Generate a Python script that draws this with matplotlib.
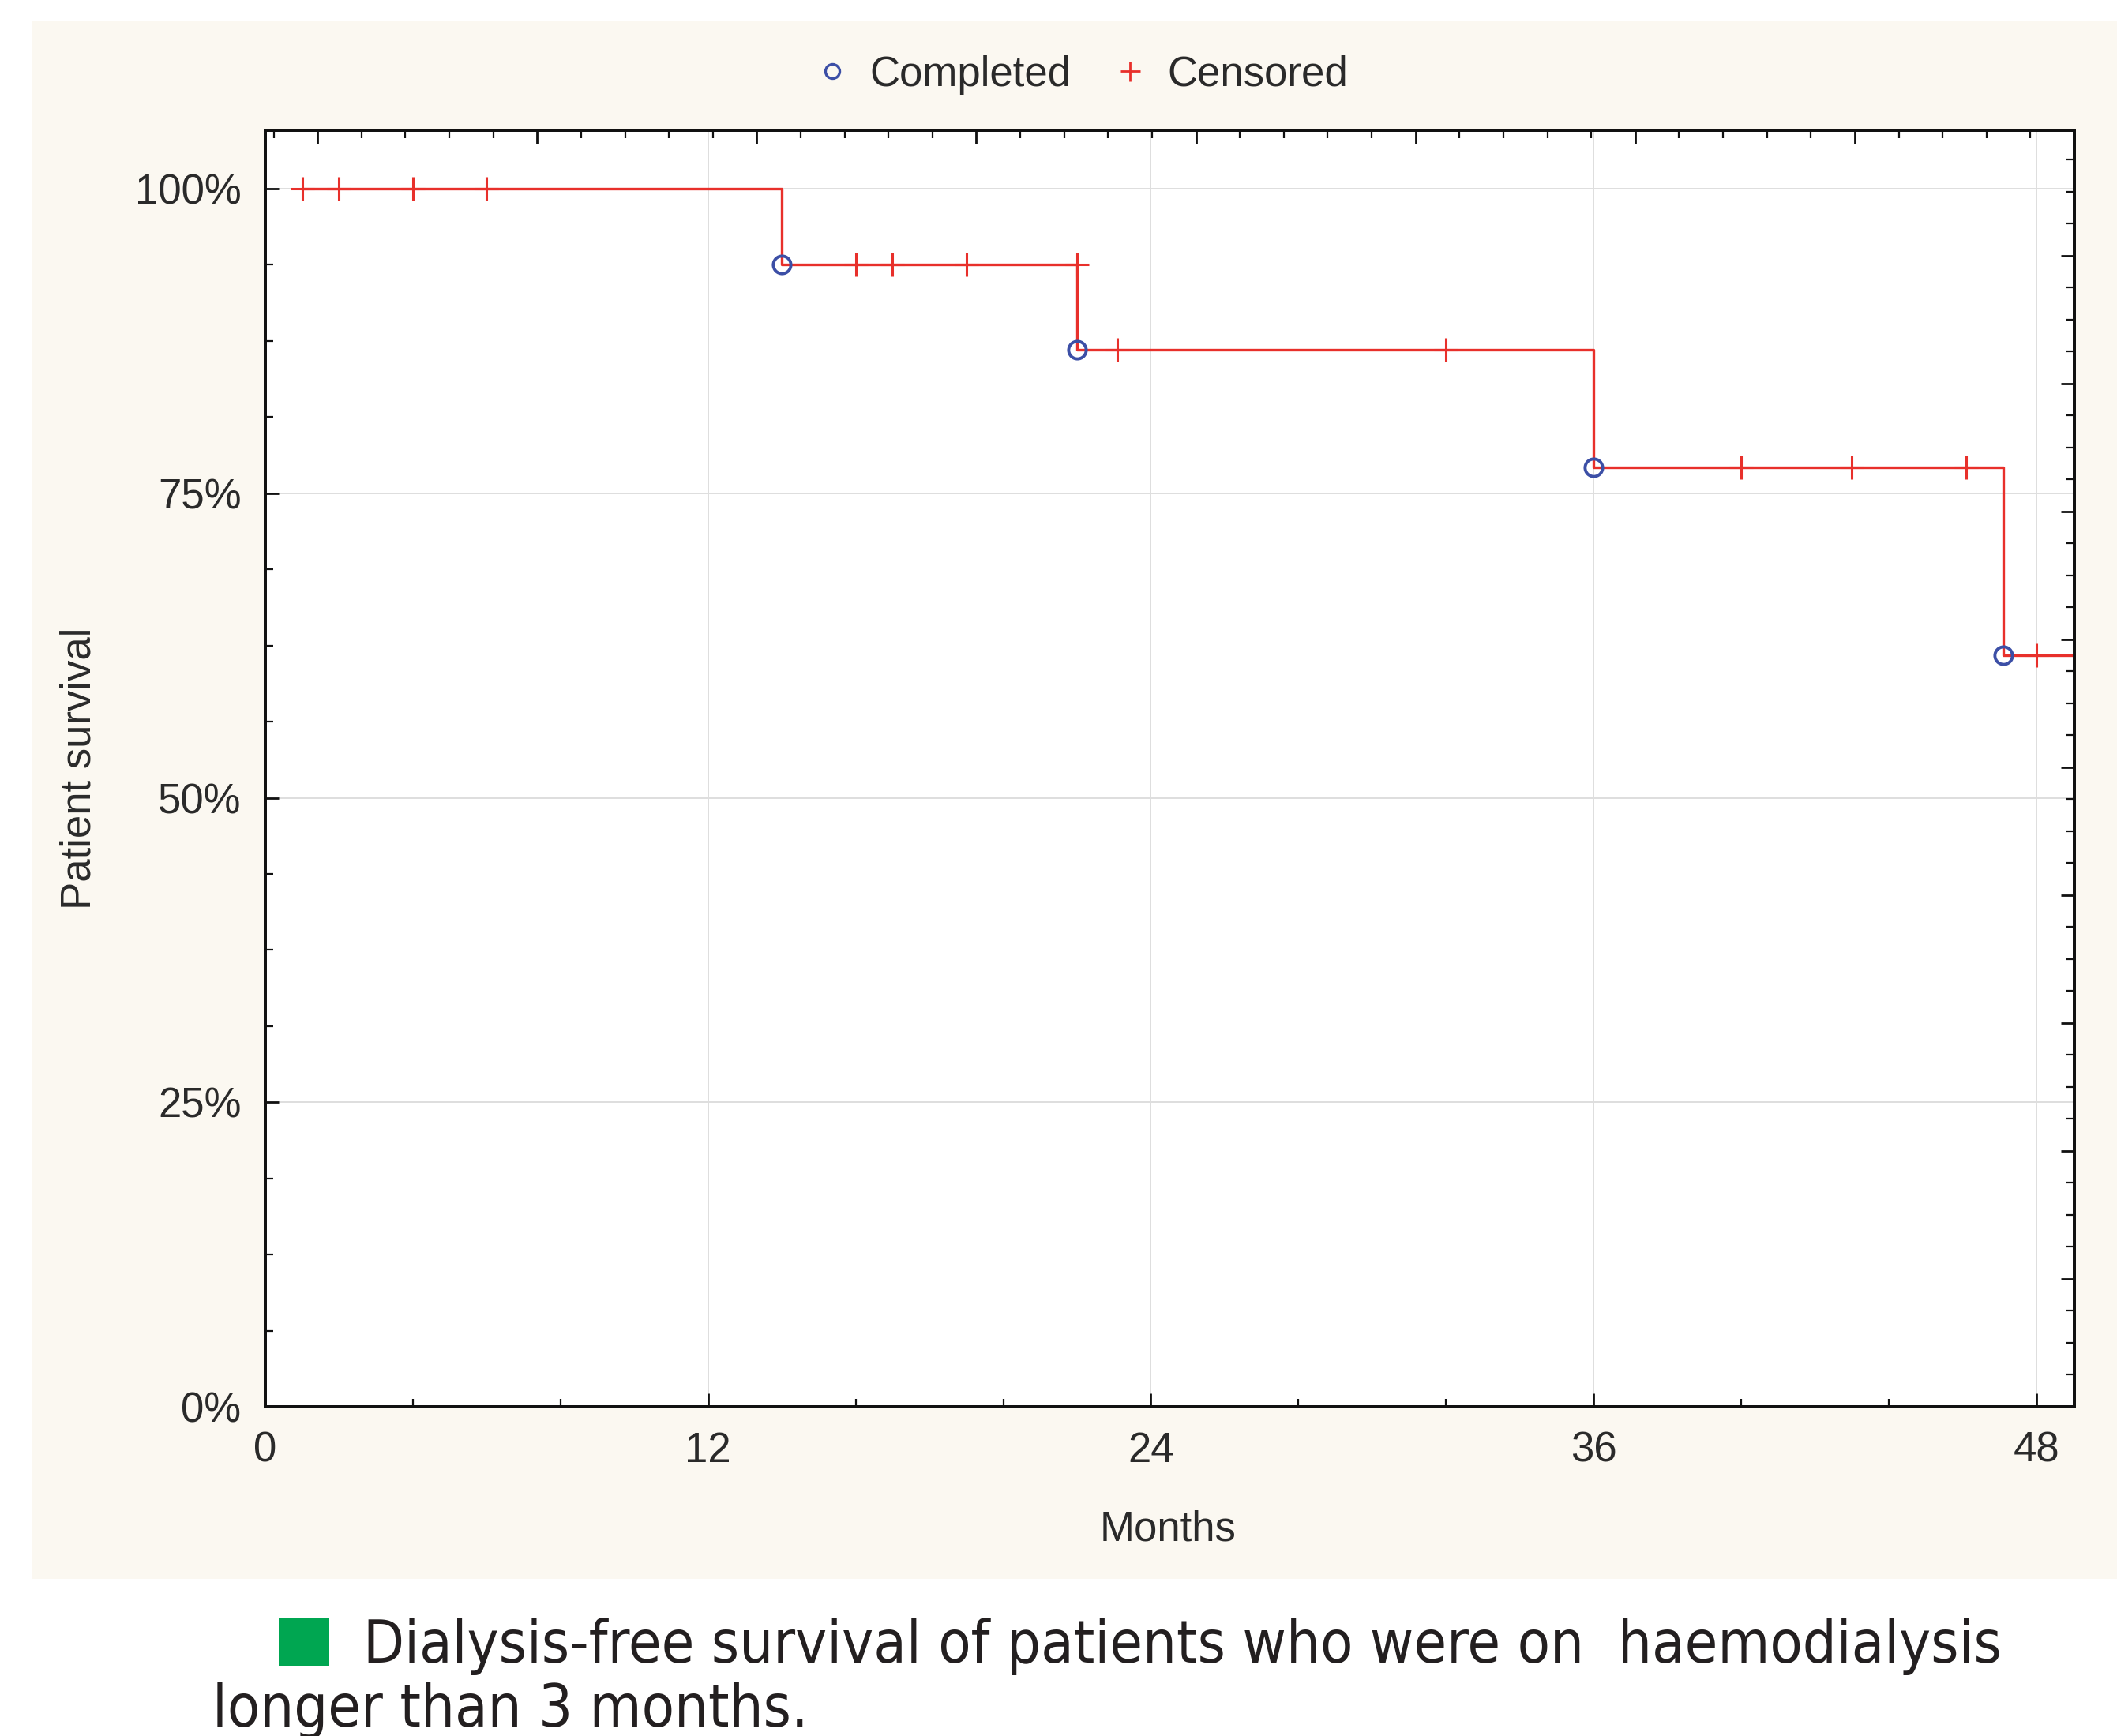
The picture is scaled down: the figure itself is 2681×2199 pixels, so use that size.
import matplotlib
matplotlib.use("Agg")
import matplotlib.pyplot as plt
from matplotlib.ticker import MultipleLocator, PercentFormatter, NullFormatter
from matplotlib.patches import Rectangle
from matplotlib.lines import Line2D

# ---------------- data ----------------
event_times = [14.0, 22.0, 36.0, 47.1]          # completed (events)
levels = [100.0, 93.75, 86.8, 77.1, 61.7]       # survival (%) before first event and after each event
censor_times = [1.0, 2.0, 4.0, 6.0, 16.0, 17.0, 19.0, 22.0, 23.1, 32.0, 40.0, 43.0, 46.1, 48.0]
start_time = 1.0
end_time = 49.0
x_ticks = [0, 12, 24, 36, 48]
y_ticks = [0, 25, 50, 75, 100]

# censored at the same time as an event sits on the level before the drop
censor_levels = []
for t in censor_times:
    lv = levels[0]
    for et, l in zip(event_times, levels[1:]):
        if t > et:
            lv = l
    censor_levels.append(lv)

W, H = 2681, 2199
fig = plt.figure(figsize=(W / 100, H / 100), dpi=100)
fig.patch.set_facecolor("white")

# beige panel
fig.patches.append(Rectangle((41 / W, 1 - 2000 / H), 1 - 41 / W, (2000 - 26) / H,
                             transform=fig.transFigure, facecolor="#FBF8F1",
                             edgecolor="none", zorder=-5))

ax = fig.add_axes([336 / W, 1 - 1782 / H, (2627 - 336) / W, (1782 - 165) / H])
ax.set_facecolor("white")
ax.set_zorder(2)

red = "#E8302B"
blue = "#3C4FA6"
FONT = "Liberation Sans"
fs = 38
tc = "#2A2A2A"

xs = [start_time] + event_times + [end_time]
ys = levels + [levels[-1]]
ax.step(xs, ys, where="post", color=red, lw=2.4, zorder=3)
ax.plot(censor_times, censor_levels, linestyle="none", marker="+", color=red,
        markersize=22, mew=2.2, zorder=4)
ax.plot(event_times, levels[1:], linestyle="none", marker="o", mfc="none",
        mec=blue, markersize=16, mew=2.8, zorder=5)

ax.set_xlim(0, 49.03)
ax.set_ylim(0, 104.8)
ax.set_xticks(x_ticks)
ax.set_yticks(y_ticks)
ax.xaxis.set_minor_locator(MultipleLocator(4))
ax.yaxis.set_minor_locator(MultipleLocator(6.25))
ax.yaxis.set_major_formatter(PercentFormatter(xmax=100, decimals=0))
ax.grid(True, which="major", color="#DEDEDE", lw=1.4, zorder=0)

for sp in ax.spines.values():
    sp.set_linewidth(2.6)
    sp.set_color("#111111")

ax.tick_params(which="major", direction="in", length=12, width=2, color="#111111",
               labelsize=fs, labelcolor=tc, pad=22)
ax.tick_params(which="minor", direction="in", length=7, width=1.6, color="#111111")
for lab in ax.get_xticklabels() + ax.get_yticklabels():
    lab.set_fontfamily(FONT)

ax.set_xlabel("Months", fontsize=fs, family=FONT, color=tc)
ax.xaxis.set_label_coords(0.499, -0.081)
ax.set_ylabel("Patient survival", fontsize=fs, family=FONT, color=tc, va="center")
ax.yaxis.set_label_coords(-0.103, 0.5)

# secondary tick scales on top and right (unlabelled)
axt = ax.twiny()
axt.set_xlim(-0.238, 8.0)
axt.xaxis.set_major_locator(MultipleLocator(1))
axt.xaxis.set_minor_locator(MultipleLocator(0.2))
axt.xaxis.set_major_formatter(NullFormatter())
axt.tick_params(which="major", direction="in", length=12, width=2, color="#111111")
axt.tick_params(which="minor", direction="in", length=7, width=1.6, color="#111111")
for sp in axt.spines.values():
    sp.set_linewidth(2.6)
    sp.set_color("#111111")

axr = ax.twinx()
axr.set_ylim(0, 9.98)
axr.yaxis.set_major_locator(MultipleLocator(1))
axr.yaxis.set_minor_locator(MultipleLocator(0.25))
axr.yaxis.set_major_formatter(NullFormatter())
axr.tick_params(which="major", direction="in", length=12, width=2, color="#111111")
axr.tick_params(which="minor", direction="in", length=7, width=1.6, color="#111111")
for sp in axr.spines.values():
    sp.set_linewidth(2.6)
    sp.set_color("#111111")

# legend
h1 = Line2D([], [], linestyle="none", marker="o", mfc="none", mec=blue, markersize=13, mew=2.4)
h2 = Line2D([], [], linestyle="none", marker="+", color=red, markersize=18, mew=2.0)
fig.legend([h1, h2], ["Completed", "Censored"], loc="center", bbox_to_anchor=(0.511, 0.957),
           ncol=2, frameon=False, handlelength=0.8, handletextpad=0.5, columnspacing=1.0,
           prop={"family": FONT, "size": fs}, labelcolor=tc)

# caption
fig.patches.append(Rectangle((353 / W, 1 - 2110 / H), 64 / W, 60 / H,
                             transform=fig.transFigure, facecolor="#00A651",
                             edgecolor="none"))
cap_kw = dict(fontsize=54.3, family="DejaVu Sans", fontstretch="condensed", color="#231F20")
fig.text(460 / W, 1 - 2106 / H, "Dialysis-free survival of patients who were on  haemodialysis",
         ha="left", va="baseline", **cap_kw)
fig.text(269 / W, 1 - 2187 / H, "longer than 3 months.", ha="left", va="baseline", **cap_kw)

fig.savefig("out.png", dpi=100, facecolor="white")
